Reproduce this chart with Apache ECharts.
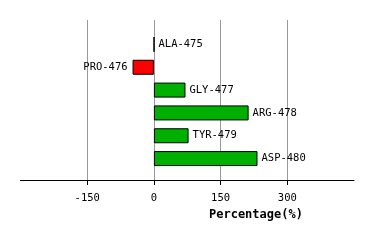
<!DOCTYPE html>
<html><head><meta charset="utf-8">
<script src="https://cdn.jsdelivr.net/npm/echarts@6/dist/echarts.min.js"></script>
<style>html,body{margin:0;padding:0;background:#fff}#c{width:374px;height:240px}</style>
</head><body><div id="c"></div>
<script>
const categories = ['ALA-475','PRO-476','GLY-477','ARG-478','TYR-479','ASP-480'];
const values = [0.5, -48, 71, 213, 78, 233];
const tickValues = [-150, 0, 150, 300];
const axisName = 'Percentage(%)';
const xMin = -300, xMax = 450, xStep = 150;

const chart = echarts.init(document.getElementById('c'), null, {renderer:'canvas'});
const font = 'DejaVu Sans Mono';
chart.setOption({
  animation: false,
  backgroundColor: '#fff',
  grid: [
    {left: 20.5, right: 20, top: 20, bottom: 60},
    {left: 20.5, right: 20, top: 33, bottom: 70},
    {left: 87.17, right: 86.83, top: 170, bottom: 60}
  ],
  xAxis: [
    {gridIndex: 0, type: 'value', min: xMin, max: xMax, interval: xStep,
     axisLine: {show: true, lineStyle: {color: '#000', width: 1}},
     axisTick: {show: false},
     axisLabel: {color: '#000', fontFamily: font, fontSize: 10.5, margin: 13,
                 customValues: tickValues},
     splitLine: {show: true, showMinLine: false, showMaxLine: false, lineStyle: {color: '#999', width: 1}}},
    {gridIndex: 1, type: 'value', min: xMin, max: xMax, show: false,
     splitLine: {show: false}},
    {gridIndex: 2, type: 'value', min: tickValues[0], max: tickValues[tickValues.length - 1], interval: xStep,
     show: true, axisLine: {show: true, lineStyle: {color: 'rgba(0,0,0,0)'}}, axisLabel: {show: false}, splitLine: {show: false},
     axisTick: {show: true, length: 5, lineStyle: {color: '#000', width: 1}}}
  ],
  yAxis: [
    {gridIndex: 0, type: 'category', data: categories, show: false},
    {gridIndex: 1, type: 'category', data: categories, inverse: true, show: false},
    {gridIndex: 2, type: 'value', show: false}
  ],
  graphic: [{
    type: 'text', left: 209, top: 209,
    style: {text: axisName, font: 'bold 12px "DejaVu Sans Mono"', fill: '#000'}
  }],
  series: [{
    type: 'bar', xAxisIndex: 1, yAxisIndex: 1, barWidth: 15,
    data: values.map(v => ({
      value: v,
      itemStyle: {color: v < 0 ? '#ff0000' : '#00b000', borderColor: '#000', borderWidth: 1},
      label: {show: true, position: v < 0 ? 'left' : 'right', distance: v < 0 ? 5 : 4,
              formatter: '{b}', color: '#000', fontFamily: font, fontSize: 10.5}
    }))
  }, {
    type: 'scatter', xAxisIndex: 2, yAxisIndex: 2, data: [], silent: true
  }]
});
</script></body></html>
